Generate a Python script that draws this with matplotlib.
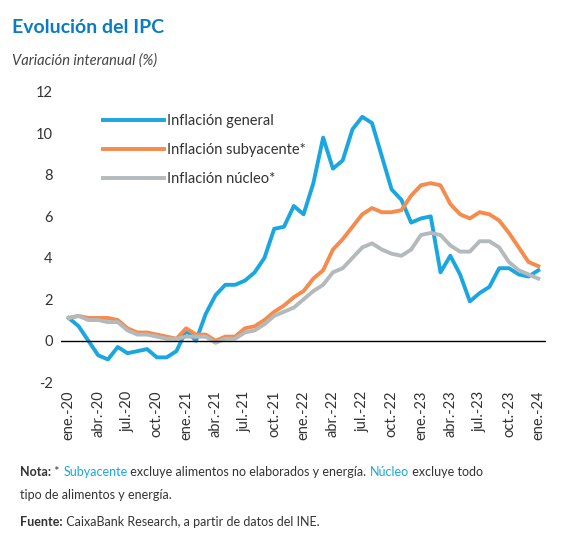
import matplotlib
matplotlib.use("Agg")
import matplotlib.pyplot as plt
import numpy as np

plt.rcParams["font.family"] = ["Lato", "DejaVu Sans"]
plt.rcParams["axes.unicode_minus"] = False

# monthly, ene-20 .. ene-24
general = [1.1, 0.7, 0.0, -0.7, -0.9, -0.3, -0.6, -0.5, -0.4, -0.8, -0.8, -0.5,
           0.5, 0.0, 1.3, 2.2, 2.7, 2.7, 2.9, 3.3, 4.0, 5.4, 5.5, 6.5,
           6.1, 7.6, 9.8, 8.3, 8.7, 10.2, 10.8, 10.5, 8.9, 7.3, 6.8, 5.7,
           5.9, 6.0, 3.3, 4.1, 3.2, 1.9, 2.3, 2.6, 3.5, 3.5, 3.2, 3.1, 3.4]
subyacente = [1.1, 1.2, 1.1, 1.1, 1.1, 1.0, 0.6, 0.4, 0.4, 0.3, 0.2, 0.1,
              0.6, 0.3, 0.3, 0.0, 0.2, 0.2, 0.6, 0.7, 1.0, 1.4, 1.7, 2.1,
              2.4, 3.0, 3.4, 4.4, 4.9, 5.5, 6.1, 6.4, 6.2, 6.2, 6.3, 7.0,
              7.5, 7.6, 7.5, 6.6, 6.1, 5.9, 6.2, 6.1, 5.8, 5.2, 4.5, 3.8, 3.6]
nucleo = [1.1, 1.2, 1.0, 1.0, 0.9, 0.9, 0.5, 0.3, 0.3, 0.2, 0.1, 0.1,
          0.2, 0.2, 0.2, -0.1, 0.1, 0.1, 0.4, 0.5, 0.8, 1.2, 1.4, 1.6,
          2.0, 2.4, 2.7, 3.3, 3.5, 4.0, 4.5, 4.7, 4.4, 4.2, 4.1, 4.4,
          5.1, 5.2, 5.1, 4.6, 4.3, 4.3, 4.8, 4.8, 4.5, 3.8, 3.4, 3.2, 3.0]
tick_labels = ["ene.-20", "abr.-20", "jul.-20", "oct.-20", "ene.-21", "abr.-21", "jul.-21",
               "oct.-21", "ene.-22", "abr.-22", "jul.-22", "oct.-22", "ene.-23", "abr.-23",
               "jul.-23", "oct.-23", "ene.-24"]

x = np.arange(len(general))
fig = plt.figure(figsize=(5.81, 5.54), dpi=100)
ax = fig.add_axes([0.105, 0.31, 0.835, 0.524])

ax.plot(x, general, color="#1aa7e0", lw=2.8, label="Inflación general")
ax.plot(x, subyacente, color="#f58b4c", lw=2.8, label="Inflación subyacente*")
ax.plot(x, nucleo, color="#b4b9bc", lw=2.8, label="Inflación núcleo*")
ax.axhline(0, color="black", lw=1)

ax.set_ylim(-2, 12)
ax.set_yticks(range(-2, 13, 2))
ax.set_xlim(-0.8, 48.8)
ax.set_xticks(x[::3])
ax.set_xticklabels(tick_labels, rotation=90)
ax.tick_params(labelsize=10.5, length=0, colors="#333333", pad=6)
for s in ax.spines.values():
    s.set_visible(False)

leg = ax.legend(loc="upper left", bbox_to_anchor=(0.06, 0.97), frameon=False,
                fontsize=10.5, handlelength=4.2, handletextpad=0.2, labelspacing=1.05)
for t in leg.get_texts():
    t.set_color("#333333")

fig.text(0.02, 0.94, "Evolución del IPC", fontsize=14, fontweight="bold", color="#0a7cc1")
fig.text(0.02, 0.883, "Variación interanual (%)", fontsize=10.5, style="italic", color="#444444")

blue = "#1aa7e0"
y1 = 0.14
parts = [("Nota:", "bold", "#333333"), (" * ", "normal", "#333333"), ("Subyacente", "normal", blue),
         (" excluye alimentos no elaborados y energía. ", "normal", "#333333"),
         ("Núcleo", "normal", blue), (" excluye todo", "normal", "#333333")]
xp = 0.035
r = fig.canvas.get_renderer()
for txt, w, c in parts:
    t = fig.text(xp, y1, txt, fontsize=9, fontweight=w, color=c)
    bb = t.get_window_extent(renderer=r)
    xp += bb.width / fig.bbox.width
fig.text(0.035, y1 - 0.04, "tipo de alimentos y energía.", fontsize=9, color="#333333")
t = fig.text(0.035, 0.05, "Fuente:", fontsize=9, fontweight="bold", color="#333333")
w = t.get_window_extent(renderer=r).width / fig.bbox.width
fig.text(0.035 + w, 0.05, " CaixaBank Research, a partir de datos del INE.", fontsize=9, color="#333333")

fig.savefig("out.png", dpi=100)
